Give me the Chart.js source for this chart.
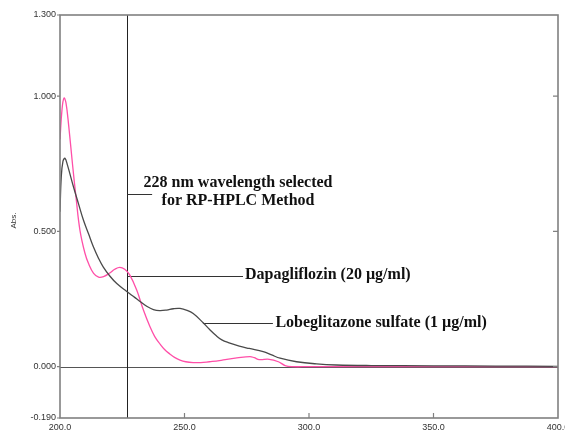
<!DOCTYPE html>
<html>
<head>
<meta charset="utf-8">
<script src="https://cdn.jsdelivr.net/npm/chart.js@4.4.1/dist/chart.umd.min.js"></script>
<style>
  html, body { margin: 0; padding: 0; background: #ffffff; }
  #wrap { width: 565px; height: 437px; overflow: hidden; }
  canvas { display: block; }
</style>
</head>
<body>
<div id="wrap"><canvas id="c" width="565" height="437"></canvas></div>
<script>
// ---- data ----
const xTicks = [200, 250, 300, 350, 400];
const yTicks = [-0.19, 0, 0.5, 1.0, 1.3];
const selectedWavelength = 227;

const dapaWavelength = [200, 200.8, 201.6, 202.4, 203.5, 205, 206.5, 208, 210, 211.5, 213.5, 215.5, 217.5, 220, 222, 224, 226, 228, 230.8, 233.5, 236.1, 238, 240.2, 242, 244.2, 246, 248.2, 250.5, 253.5, 256.5, 260, 264, 267, 271, 276.3, 278, 280, 284, 287.7, 290.4, 293, 300, 350, 400];
const dapaAbs =        [0.84, 0.95, 0.993, 0.975, 0.89, 0.75, 0.62, 0.505, 0.42, 0.38, 0.345, 0.331, 0.333, 0.346, 0.36, 0.367, 0.36, 0.339, 0.283, 0.209, 0.148, 0.112, 0.083, 0.063, 0.046, 0.034, 0.024, 0.018, 0.015, 0.015, 0.018, 0.022, 0.027, 0.032, 0.037, 0.033, 0.026, 0.027, 0.018, 0.004, 0.0, 0.0, 0.0, 0.0];

const lobeWavelength = [200, 200.5, 201.2, 202, 203, 205.4, 207.5, 209.4, 211.5, 213.4, 215.5, 217.4, 220, 222.8, 226.8, 230, 232, 235, 237.5, 240, 242.8, 245.5, 248.2, 251, 253.5, 257.5, 260, 262.9, 265, 267.6, 272, 276, 281.6, 285, 288.4, 295, 303, 311, 325, 350, 375, 400];
const lobeAbs =        [0.573, 0.70, 0.76, 0.77, 0.745, 0.665, 0.60, 0.542, 0.49, 0.443, 0.40, 0.368, 0.335, 0.307, 0.278, 0.256, 0.242, 0.222, 0.211, 0.207, 0.209, 0.214, 0.215, 0.208, 0.196, 0.162, 0.138, 0.113, 0.099, 0.089, 0.076, 0.067, 0.055, 0.043, 0.031, 0.018, 0.01, 0.006, 0.004, 0.003, 0.002, 0.001];

const seriesNames = ["Dapagliflozin (20 \u00b5g/ml)", "Lobeglitazone sulfate (1 \u00b5g/ml)"];
const noteLines = ["228 nm wavelength selected", "for RP-HPLC Method"];
const yAxisTitle = "Abs.";
const xAxisTitle = "nm";

const toPoints = (xs, ys) => xs.map((x, i) => ({ x: x, y: ys[i] }));

const decor = {
  id: 'decor',
  beforeDatasetsDraw(chart) {
    const ctx = chart.ctx, xs = chart.scales.x, ys = chart.scales.y, a = chart.chartArea;
    ctx.save();
    // zero line
    ctx.strokeStyle = '#555555'; ctx.lineWidth = 1;
    ctx.beginPath();
    const y0 = Math.round(ys.getPixelForValue(0)) + 0.5;
    ctx.moveTo(a.left, y0); ctx.lineTo(a.right, y0); ctx.stroke();
    // selected wavelength line
    ctx.strokeStyle = '#222222';
    const xv = Math.round(xs.getPixelForValue(selectedWavelength)) + 0.5;
    ctx.beginPath(); ctx.moveTo(xv, a.top); ctx.lineTo(xv, a.bottom); ctx.stroke();
    // leader lines
    const leaders = [
      [selectedWavelength, 237, 0.638],
      [selectedWavelength, 273.5, 0.335],
      [257.4, 285.5, 0.161]
    ];
    ctx.strokeStyle = '#333333';
    leaders.forEach(l => {
      const yy = Math.round(ys.getPixelForValue(l[2])) + 0.5;
      ctx.beginPath();
      ctx.moveTo(xs.getPixelForValue(l[0]), yy);
      ctx.lineTo(xs.getPixelForValue(l[1]), yy);
      ctx.stroke();
    });
    ctx.restore();
  },
  afterDraw(chart) {
    const ctx = chart.ctx, xs = chart.scales.x, ys = chart.scales.y, a = chart.chartArea;
    ctx.save();
    // box
    ctx.strokeStyle = '#808080'; ctx.lineWidth = 1.6;
    ctx.strokeRect(a.left, a.top, a.right - a.left, a.bottom - a.top);
    // ticks
    ctx.lineWidth = 1.2;
    ctx.beginPath();
    yTicks.forEach(v => {
      const y = ys.getPixelForValue(v);
      ctx.moveTo(a.left - 3, y); ctx.lineTo(a.left, y);
      if (v > -0.19 && v < 1.3) { ctx.moveTo(a.right - 5, y); ctx.lineTo(a.right, y); }
    });
    xTicks.forEach(v => {
      if (v > 200 && v < 400) {
        const x = xs.getPixelForValue(v);
        ctx.moveTo(x, a.bottom); ctx.lineTo(x, a.bottom - 5);
      }
    });
    ctx.stroke();
    // annotation text
    ctx.fillStyle = '#111111';
    ctx.font = 'bold 16px "Liberation Serif", "Times New Roman", serif';
    ctx.textBaseline = 'middle';
    ctx.textAlign = 'center';
    ctx.fillText(noteLines[0], xs.getPixelForValue(271.5), ys.getPixelForValue(0.678));
    ctx.fillText(noteLines[1], xs.getPixelForValue(271.5), ys.getPixelForValue(0.613));
    ctx.textAlign = 'left';
    ctx.fillText(seriesNames[0], xs.getPixelForValue(274.3), ys.getPixelForValue(0.339));
    ctx.fillText(seriesNames[1], xs.getPixelForValue(286.5), ys.getPixelForValue(0.163));
    // axis titles
    ctx.fillStyle = '#333333';
    ctx.font = '8px "Liberation Sans", Arial, sans-serif';
    ctx.textAlign = 'center';
    ctx.save();
    ctx.translate(14, (a.top + a.bottom) / 2 + 4);
    ctx.rotate(-Math.PI / 2);
    ctx.fillText(yAxisTitle, 0, 0);
    ctx.restore();
    ctx.fillText(xAxisTitle, xs.getPixelForValue(300), 440);
    ctx.restore();
  }
};

new Chart(document.getElementById('c'), {
  type: 'line',
  data: {
    datasets: [
      {
        label: seriesNames[1],
        data: toPoints(lobeWavelength, lobeAbs),
        borderColor: '#4a4a4a',
        borderWidth: 1.3,
        pointRadius: 0,
        tension: 0.4,
        fill: false
      },
      {
        label: seriesNames[0],
        data: toPoints(dapaWavelength, dapaAbs),
        borderColor: '#ff4fa8',
        borderWidth: 1.3,
        pointRadius: 0,
        tension: 0.4,
        fill: false
      }
    ]
  },
  options: {
    responsive: false,
    animation: false,
    devicePixelRatio: 1,
    layout: { padding: { top: 15, right: 7, left: 0, bottom: 0 } },
    plugins: { legend: { display: false }, tooltip: { enabled: false } },
    scales: {
      x: {
        type: 'linear', min: 200, max: 400,
        afterBuildTicks: s => { s.ticks = xTicks.map(v => ({ value: v })); },
        afterFit: s => { s.height = 19; s.paddingLeft = 0; s.paddingRight = 0; },
        grid: { display: false, drawTicks: false },
        border: { display: false },
        ticks: {
          autoSkip: false, maxRotation: 0, padding: 4,
          color: '#333333',
          font: { family: '"Liberation Sans", Arial, sans-serif', size: 9 },
          callback: v => Number(v).toFixed(1)
        }
      },
      y: {
        type: 'linear', min: -0.19, max: 1.3,
        afterBuildTicks: s => { s.ticks = yTicks.map(v => ({ value: v })); },
        afterFit: s => { s.width = 60; s.paddingTop = 0; s.paddingBottom = 0; },
        grid: { display: false, drawTicks: false },
        border: { display: false },
        ticks: {
          autoSkip: false, padding: 4,
          color: '#333333',
          font: { family: '"Liberation Sans", Arial, sans-serif', size: 9 },
          callback: v => Number(v).toFixed(3)
        }
      }
    }
  },
  plugins: [decor]
});
</script>
</body>
</html>
